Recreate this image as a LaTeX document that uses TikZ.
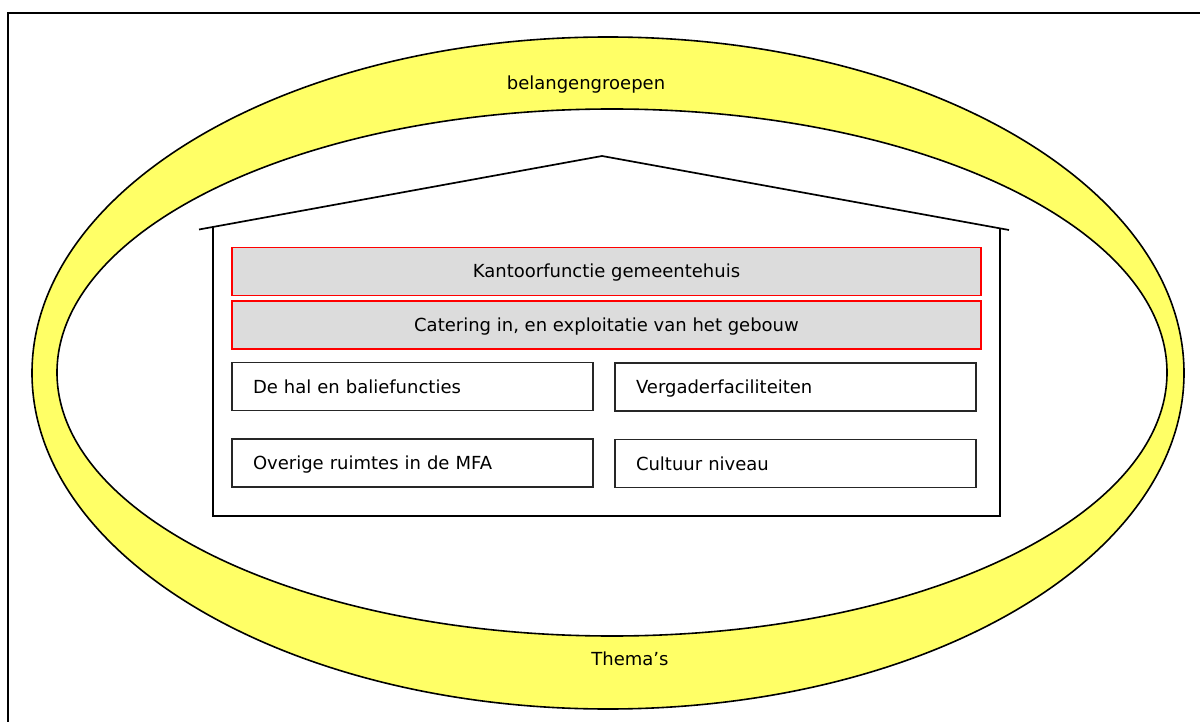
\documentclass[tikz,border=0pt]{standalone}
\usepackage{fontspec}
\setmainfont{DejaVu Sans}
\usetikzlibrary{shapes.geometric}
\definecolor{bandyellow}{HTML}{FFFF66}
\definecolor{boxgray}{HTML}{DCDCDC}
\begin{document}
\begin{tikzpicture}[x=1pt,y=-1pt,
  every node/.style={font=\fontsize{18}{21}\selectfont, text height=13pt, text depth=0pt},
  frameline/.style={line width=2pt},
  houseline/.style={line width=1.7pt, line join=miter},
  ring/.style={ellipse, draw, line width=1.6pt, inner sep=0pt, outer sep=0pt},
  redbox/.style={draw=red, line width=1.5pt, fill=boxgray, minimum width=749pt, minimum height=48pt, inner sep=0pt},
  whitebox/.style={draw=black!85, line width=1.7pt, fill=white, minimum height=48pt, text width=319pt, inner xsep=21pt, inner ysep=0pt, align=left},
  bandlabel/.style={inner sep=0pt}
]
\fill[white] (0,0) rectangle (1200,722);
\useasboundingbox (0,0) rectangle (1200,722);
% frame (top and left edges)
\coordinate (fbl) at (7.5,722);
\coordinate (ftl) at (7.5,13.5);
\coordinate (ftr) at (1200,13.5);
\draw[frameline] (fbl) -- (ftl) -- (ftr);
% ring
\node[ring, fill=bandyellow, minimum width=1152pt, minimum height=672pt] (outer) at (608,373) {};
\node[ring, fill=white, minimum width=1110pt, minimum height=527pt] (inner) at (612,372.5) {};
\node[bandlabel] (belang) at (586,83) {belangengroepen};
\node[bandlabel] (themas) at (630,659) {Thema’s};
% house
\coordinate (roofL) at (199,229.5);
\coordinate (apex) at (602,156);
\coordinate (roofR) at (1009,230);
\coordinate (wallLt) at (213,227);
\coordinate (wallLb) at (213,516);
\coordinate (wallRb) at (1000,516);
\coordinate (wallRt) at (1000,228);
\draw[houseline] (roofL) -- (apex) -- (roofR);
\draw[houseline] (wallLt) -- (wallLb) -- (wallRb) -- (wallRt);
% boxes
\node[redbox] (kantoor) at (606.5,271.5) {Kantoorfunctie gemeentehuis};
\node[redbox] (catering) at (606.5,325) {Catering in, en exploitatie van het gebouw};
\node[whitebox] (hal) at (412.5,386.5) {De hal en baliefuncties};
\node[whitebox] (vergader) at (795.5,387) {Vergaderfaciliteiten};
\node[whitebox] (overige) at (412.5,463) {Overige ruimtes in de MFA};
\node[whitebox] (cultuur) at (795.5,463.5) {Cultuur niveau};
\end{tikzpicture}
\end{document}
